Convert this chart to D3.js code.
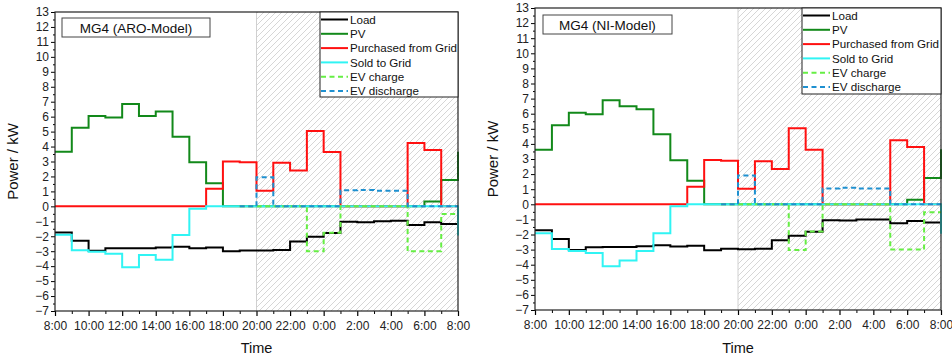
<!DOCTYPE html>
<html>
<head>
<meta charset="utf-8">
<script src="https://cdn.jsdelivr.net/npm/d3@7"></script>
<style>
  body { margin: 0; background: #fff; }
  svg { font-family: "Liberation Sans", Arial, sans-serif; }
</style>
</head>
<body>
<div id="chart"></div>
<script>
// hour of day (8 = 8:00, 32 = next day 8:00)
const hours = [8, 9, 10, 11, 12, 13, 14, 15, 16, 17, 18, 19, 20, 21, 22, 23, 24, 25, 26, 27, 28, 29, 30, 31, 32];
const xTicks = [8, 10, 12, 14, 16, 18, 20, 22, 24, 26, 28, 30, 32];
const yTicks = [-7, -6, -5, -4, -3, -2, -1, 0, 1, 2, 3, 4, 5, 6, 7, 8, 9, 10, 11, 12, 13];
const seriesNames = ["Load", "PV", "Purchased from Grid", "Sold to Grid", "EV charge", "EV discharge"];

// MG4 ARO-Model
const loadARO = [-1.75, -2.3, -2.97, -2.8, -2.8, -2.8, -2.75, -2.7, -2.8, -2.75, -3.0, -2.95, -2.95, -2.92, -2.35, -2.03, -1.78, -1.03, -1.07, -1.0, -0.97, -1.25, -1.07, -1.18, -1.18];
const pvARO = [3.65, 5.25, 6.05, 5.95, 6.85, 6.05, 6.35, 4.65, 2.95, 1.55, 0, 0, 0, 0, 0, 0, 0, 0, 0, 0, 0, 0, 0.33, 1.76, 3.65];
const buyARO = [0, 0, 0, 0, 0, 0, 0, 0, 0, 1.18, 3.0, 2.95, 1.05, 2.92, 2.39, 5.04, 3.63, 0, 0, 0, 0, 4.24, 3.77, 0, 0];
const sellARO = [-1.9, -2.94, -3.03, -3.17, -4.08, -3.26, -3.57, -1.92, -0.16, 0, 0, 0, 0, 0, 0, 0, 0, 0, 0, 0, 0, 0, 0, 0, -1.95];
const evcARO = [null, null, null, null, null, null, null, null, null, null, null, 0, 0, 0, 0, -3.01, -1.76, 0, 0, 0, 0, -3.0, -3.0, -0.51, -0.51];
const evdARO = [null, null, null, null, null, null, null, null, null, null, null, 0, 1.94, 0, 0, 0, 0, 1.08, 1.1, 1.05, 1.05, 0, 0, 0, 0];

// MG4 NI-Model
const loadNI = [-1.72, -2.3, -3.03, -2.85, -2.83, -2.83, -2.78, -2.72, -2.8, -2.75, -3.05, -2.95, -2.98, -2.95, -2.38, -2.08, -1.81, -1.06, -1.08, -1.0, -1.0, -1.26, -1.1, -1.2, -1.2];
const pvNI = [3.62, 5.23, 6.07, 5.96, 6.89, 6.49, 6.29, 4.64, 2.91, 1.56, 0, 0, 0, 0, 0, 0, 0, 0, 0, 0, 0, 0, 0.3, 1.75, 3.65];
const buyNI = [0, 0, 0, 0, 0, 0, 0, 0, 0, 1.17, 2.93, 2.89, 1.03, 2.85, 2.34, 5.03, 3.62, 0, 0, 0, 0, 4.24, 3.79, 0, 0];
const sellNI = [-1.92, -2.96, -3.09, -3.22, -4.11, -3.73, -3.09, -1.92, -0.13, 0, 0, 0, 0, 0, 0, 0, 0, 0, 0, 0, 0, 0, 0, 0, -1.95];
const evcNI = [null, null, null, null, null, null, null, null, null, null, null, 0, 0, 0, 0, -3.03, -1.8, 0, 0, 0, 0, -3.0, -3.0, -0.53, -0.53];
const evdNI = [null, null, null, null, null, null, null, null, null, null, null, 0, 1.9, 0, 0, 0, 0, 1.05, 1.1, 1.05, 1.05, 0, 0, 0, 0];

const colors = ["#000000", "#12891a", "#ff1010", "#30f4f4", "#66ee44", "#1e90d0"];
const dashes = [null, null, null, null, "5,3.5", "5,3.5"];

const svg = d3.select("#chart").append("svg")
    .attr("width", 952)
    .attr("height", 360);

// hatch pattern for night period
const defs = svg.append("defs");
const pat = defs.append("pattern")
    .attr("id", "hatch")
    .attr("patternUnits", "userSpaceOnUse")
    .attr("width", 6)
    .attr("height", 6);
pat.append("path")
    .attr("d", "M-1,1 l2,-2 M0,6 l6,-6 M5,7 l2,-2")
    .attr("stroke", "#c4c4c4")
    .attr("stroke-width", 0.7);

function drawPanel(p) {
    const x = d3.scaleLinear().domain([8, 32]).range([p.left, p.right]);
    const y = d3.scaleLinear().domain([-7, 13]).range([p.bottom, p.top]);
    const g = svg.append("g");

    // night shading
    g.append("rect")
        .attr("x", x(20))
        .attr("y", p.top)
        .attr("width", x(32) - x(20))
        .attr("height", p.bottom - p.top)
        .attr("fill", "url(#hatch)");
    g.append("line")
        .attr("x1", x(20)).attr("x2", x(20))
        .attr("y1", p.top).attr("y2", p.bottom)
        .attr("stroke", "#d0d0d0")
        .attr("stroke-width", 1);

    // axes
    const xAxis = d3.axisBottom(x)
        .tickValues(xTicks)
        .tickSize(5)
        .tickFormat(d => (d % 24) + ":00");
    const gx = g.append("g")
        .attr("transform", "translate(0," + p.bottom + ")")
        .call(xAxis);
    gx.selectAll(".tick line").attr("stroke-width", 1.2);
    gx.selectAll("text").attr("font-size", 12).attr("fill", "#222").attr("dy", "0.9em");
    gx.select(".domain").remove();
    g.append("g")
        .attr("transform", "translate(0," + p.bottom + ")")
        .call(d3.axisBottom(x).tickValues(hours.filter(h => h % 2 === 1)).tickSize(3).tickFormat(""))
        .select(".domain").remove();

    const yAxis = d3.axisLeft(y)
        .tickValues(yTicks)
        .tickSize(4);
    const gy = g.append("g")
        .attr("transform", "translate(" + p.left + ",0)")
        .call(yAxis);
    gy.selectAll("text").attr("font-size", 12).attr("fill", "#222").attr("x", -6);
    gy.select(".domain").remove();
    g.append("g")
        .attr("transform", "translate(" + p.left + ",0)")
        .call(d3.axisLeft(y).tickValues(yTicks.slice(0, -1).map(v => v + 0.5)).tickSize(2).tickFormat(""))
        .select(".domain").remove();

    // series lines
    const line = d3.line()
        .defined(d => d[1] !== null)
        .x(d => x(d[0]))
        .y(d => y(d[1]))
        .curve(d3.curveStepAfter);

    p.series.forEach((s, i) => {
        g.append("path")
            .datum(hours.map((h, j) => [h, s[j]]))
            .attr("fill", "none")
            .attr("stroke", colors[i])
            .attr("stroke-width", 2)
            .attr("stroke-dasharray", dashes[i])
            .attr("d", line);
    });

    // frame
    g.append("rect")
        .attr("x", p.left)
        .attr("y", p.top)
        .attr("width", p.right - p.left)
        .attr("height", p.bottom - p.top)
        .attr("fill", "none")
        .attr("stroke", "#222")
        .attr("stroke-width", 1.2);

    // title box
    g.append("rect")
        .attr("x", p.titleBox[0]).attr("y", p.titleBox[1])
        .attr("width", p.titleBox[2]).attr("height", p.titleBox[3])
        .attr("fill", "#fff")
        .attr("stroke", "#444")
        .attr("stroke-width", 1);
    g.append("text")
        .attr("x", p.titleBox[0] + p.titleBox[2] / 2)
        .attr("y", p.titleBox[1] + p.titleBox[3] / 2 + 5)
        .attr("text-anchor", "middle")
        .attr("font-size", 13.5)
        .attr("fill", "#111")
        .text(p.title);

    // legend
    const lg = g.append("g").attr("transform", "translate(" + p.legend[0] + "," + p.legend[1] + ")");
    lg.append("rect")
        .attr("width", p.right - p.legend[0])
        .attr("height", p.legend[2])
        .attr("fill", "#fff")
        .attr("stroke", "#222")
        .attr("stroke-width", 1);
    seriesNames.forEach((name, i) => {
        const ly = 7.5 + i * 14.3;
        lg.append("line")
            .attr("x1", 1).attr("x2", 28)
            .attr("y1", ly).attr("y2", ly)
            .attr("stroke", colors[i])
            .attr("stroke-width", 2)
            .attr("stroke-dasharray", dashes[i]);
        lg.append("text")
            .attr("x", 30)
            .attr("y", ly + 4.3)
            .attr("font-size", 11.6)
            .attr("fill", "#111")
            .text(name);
    });

    // axis titles
    g.append("text")
        .attr("transform", "translate(" + (p.left - 37) + "," + ((p.top + p.bottom) / 2) + ") rotate(-90)")
        .attr("text-anchor", "middle")
        .attr("font-size", 15)
        .attr("fill", "#111")
        .text("Power / kW");
    g.append("text")
        .attr("x", (p.left + p.right) / 2)
        .attr("y", 353)
        .attr("text-anchor", "middle")
        .attr("font-size", 14.5)
        .attr("fill", "#111")
        .text("Time");
}

drawPanel({
    title: "MG4 (ARO-Model)",
    left: 55, right: 458, top: 12, bottom: 311,
    titleBox: [62, 18, 148, 19],
    legend: [320, 12, 85],
    series: [loadARO, pvARO, buyARO, sellARO, evcARO, evdARO]
});

drawPanel({
    title: "MG4 (NI-Model)",
    left: 535, right: 941, top: 8, bottom: 310,
    titleBox: [543, 15, 129, 19],
    legend: [802, 8, 86],
    series: [loadNI, pvNI, buyNI, sellNI, evcNI, evdNI]
});
</script>
</body>
</html>
